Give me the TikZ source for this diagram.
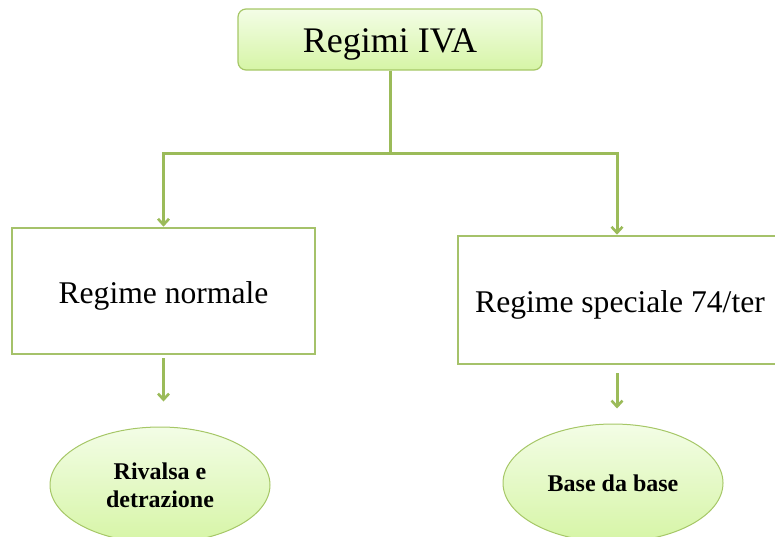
\documentclass[tikz,border=0pt]{standalone}
\usepackage{fontspec}
\setmainfont{Liberation Serif}
\usetikzlibrary{arrows.meta,shapes.geometric}
\definecolor{lnc}{HTML}{9BBB59}
\definecolor{bdc}{HTML}{A6C767}
\definecolor{ftop}{HTML}{F3FDE6}
\definecolor{fbot}{HTML}{D6F5A6}
\newcommand{\lowered}[2]{\raisebox{-#1}[0pt][0pt]{#2}}
\tikzset{
  topbox/.style={draw=bdc, line width=1.2pt, rounded corners=8pt, top color=ftop, bottom color=fbot, minimum width=304pt, minimum height=61pt, inner sep=0pt, font=\fontsize{36}{40}\selectfont},
  regbox/.style={draw=lnc!90!white, line width=2.6pt, fill=white, inner sep=0pt, font=\fontsize{31.6}{36}\selectfont},
  ell/.style={ellipse, draw=bdc, line width=1pt, top color=ftop, bottom color=fbot, inner sep=0pt, align=center, font=\fontsize{24}{28}\selectfont\bfseries},
  conn/.style={draw=lnc, line width=3pt, line join=miter},
  arr/.style={conn, -{Straight Barb[length=6pt,width=11pt,line width=2.6pt]}}
}
\begin{document}
\begin{tikzpicture}[x=1pt,y=-1pt]
\useasboundingbox (0,0) rectangle (775,536);
\clip (0,0) rectangle (775,536);
\node[topbox] (top) at (390,39.5) {\lowered{13pt}{Regimi IVA}};
\node[regbox, minimum width=303pt, minimum height=126pt] (lbox) at (163.5,291) {\lowered{12pt}{Regime normale}};
\node[regbox, minimum width=324pt, minimum height=128pt] (rbox) at (620,300) {\lowered{12pt}{Regime speciale 74/ter}};
\node[ell, minimum width=220pt, minimum height=116pt] (lell) at (160,485) {Rivalsa e\\detrazione};
\node[ell, minimum width=220pt, minimum height=118pt] (rell) at (613,483) {\lowered{8pt}{Base da base}};
\coordinate (junc) at (390,153);
\draw[conn] (top.south) -- (junc);
\draw[arr] (junc) -| ([xshift=0pt]lbox.north);
\draw[arr] (junc) -| ([xshift=-3pt]rbox.north);
\draw[arr, shorten <=3pt, shorten >=25pt] (lbox.south) -- (lbox.south |- lell.north);
\draw[arr, shorten <=8pt, shorten >=15pt] ([xshift=-3pt]rbox.south) -- ([xshift=-3pt]rbox.south |- rell.north);
\end{tikzpicture}
\end{document}
